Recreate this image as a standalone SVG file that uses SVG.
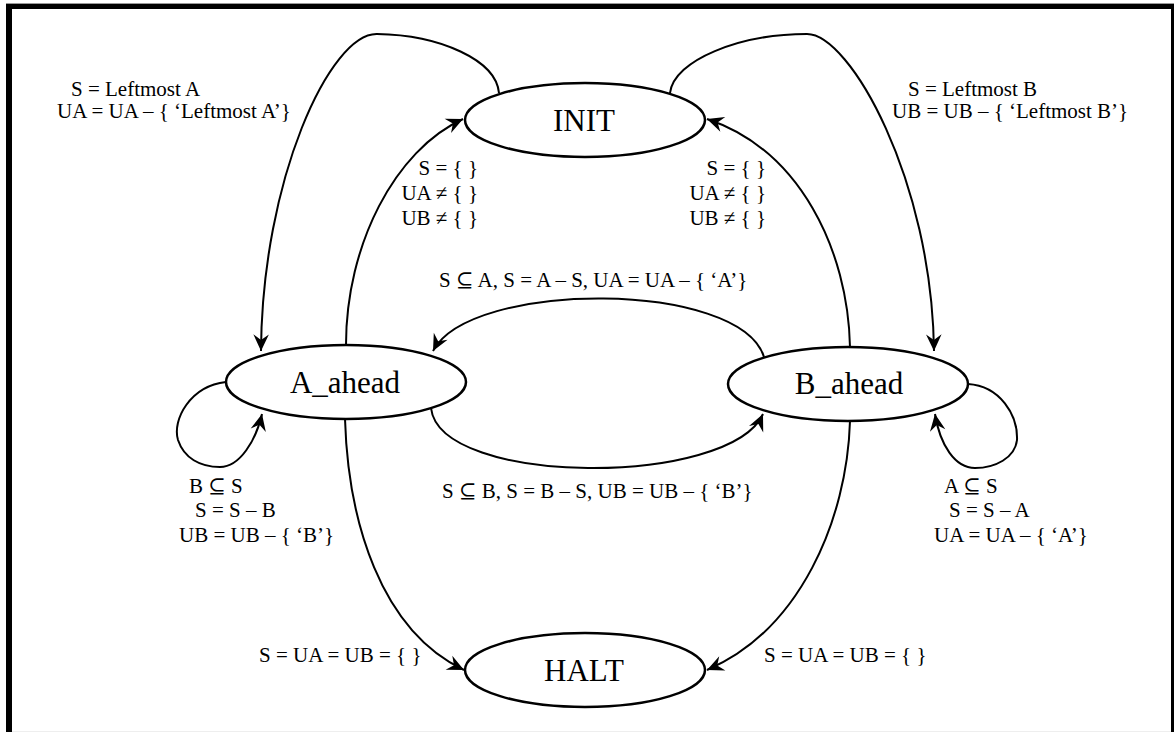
<svg xmlns="http://www.w3.org/2000/svg" width="1174" height="732" viewBox="0 0 1174 732">
  <defs>
    <marker id="arrow" markerUnits="userSpaceOnUse" markerWidth="20" markerHeight="20" viewBox="-16 -8 18 16" refX="0" refY="0" orient="auto">
      <path d="M0,0 L-15,-7 L-10,0 L-15,7 Z" fill="#000"/>
    </marker>
    <style>
      .frame { fill: #000; }
      .node ellipse { fill: #fff; stroke: #000; stroke-width: 2.5; }
      .node text { font-family: "Liberation Serif", "DejaVu Serif", serif; font-size: 31px; text-anchor: middle; fill: #000; }
      .edges path { fill: none; stroke: #000; stroke-width: 2; }
      .edges path.arr { marker-end: url(#arrow); }
      .lbl { font-family: "Liberation Serif", "DejaVu Serif", serif; font-size: 21px; fill: #000; }
      .r { text-anchor: end; }
    </style>
  </defs>

  <rect width="1174" height="732" fill="#fff"/>

  <!-- page frame -->
  <g id="frame">
    <rect x="6" y="3" width="1168" height="1" fill="#999"/>
    <rect class="frame" x="6" y="4" width="1168" height="5"/>
    <rect class="frame" x="6" y="4" width="6" height="728"/>
    <rect class="frame" x="1171" y="4" width="3" height="728"/>
    <rect x="12" y="731" width="1159" height="1" fill="#eee"/>
  </g>

  <!-- transitions -->
  <g id="connectors" class="edges">
    <!-- INIT -> A_ahead (outer) -->
    <path class="arr" d="M499,93 C496,60 440,35 377,34 C330,33 262,180 261,351"/>
    <!-- INIT -> B_ahead (outer) -->
    <path class="arr" d="M670,93 C674,60 740,34 807,34 C850,34 932,180 934,351"/>
    <!-- A_ahead -> INIT -->
    <path class="arr" d="M346,345 C346,245 395,150 463,119"/>
    <!-- B_ahead -> INIT -->
    <path class="arr" d="M850,347 C848,250 800,150 707,119"/>
    <!-- B_ahead -> A_ahead -->
    <path class="arr" d="M764,357 C740,280 470,280 433,351"/>
    <!-- A_ahead -> B_ahead -->
    <path class="arr" d="M431,408 C440,487 730,487 763,414"/>
    <!-- A_ahead self loop -->
    <path class="arr" d="M226,382 C190,386 172,420 178,440 C184,458 200,467 220,467 C240,467 256,440 262,414"/>
    <!-- B_ahead self loop -->
    <path class="arr" d="M968,384 C1000,386 1018,415 1017,440 C1015,458 995,468 975,468 C955,468 940,445 935,414"/>
    <!-- A_ahead -> HALT -->
    <path class="arr" d="M345,419 C348,520 380,630 464,670"/>
    <!-- B_ahead -> HALT -->
    <path class="arr" d="M850,421 C847,520 800,630 707,670"/>
  </g>

  <!-- states -->
  <g id="INIT" class="node">
    <ellipse cx="585" cy="120" rx="120" ry="37"/>
    <text x="584" y="131">INIT</text>
  </g>
  <g id="A_ahead" class="node">
    <ellipse cx="346" cy="382" rx="120" ry="37"/>
    <text x="345" y="393">A_ahead</text>
  </g>
  <g id="B_ahead" class="node">
    <ellipse cx="848" cy="384" rx="120" ry="37"/>
    <text x="849" y="394">B_ahead</text>
  </g>
  <g id="HALT" class="node">
    <ellipse cx="585" cy="670" rx="120" ry="37"/>
    <text x="584" y="681">HALT</text>
  </g>

  <!-- transition labels -->
  <g id="labels">
    <text class="lbl" x="71" y="96">S = Leftmost A</text>
    <text class="lbl" x="57" y="118">UA = UA – { ‘Leftmost A’}</text>

    <text class="lbl" x="908" y="96">S = Leftmost B</text>
    <text class="lbl" x="892" y="118">UB = UB – { ‘Leftmost B’}</text>

    <text class="lbl r" x="478" y="175">S = { }</text>
    <text class="lbl r" x="478" y="200">UA ≠ { }</text>
    <text class="lbl r" x="478" y="225">UB ≠ { }</text>

    <text class="lbl r" x="766" y="175">S = { }</text>
    <text class="lbl r" x="766" y="200">UA ≠ { }</text>
    <text class="lbl r" x="766" y="225">UB ≠ { }</text>

    <text class="lbl" x="439" y="287">S ⊆ A, S = A – S, UA = UA – { ‘A’}</text>
    <text class="lbl" x="442" y="498">S ⊆ B, S = B – S, UB = UB – { ‘B’}</text>

    <text class="lbl" x="189" y="493">B ⊆ S</text>
    <text class="lbl" x="195" y="517">S = S – B</text>
    <text class="lbl" x="179" y="542">UB = UB – { ‘B’}</text>

    <text class="lbl" x="944" y="493">A ⊆ S</text>
    <text class="lbl" x="949" y="517">S = S – A</text>
    <text class="lbl" x="934" y="542">UA = UA – { ‘A’}</text>

    <text class="lbl" x="259" y="662">S = UA = UB = { }</text>
    <text class="lbl" x="764" y="662">S = UA = UB = { }</text>
  </g>
</svg>
